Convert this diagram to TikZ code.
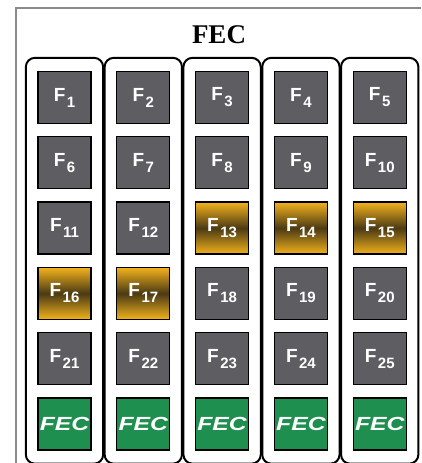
\documentclass[tikz,border=0pt]{standalone}
\usepackage{fontspec}
\setmainfont{Liberation Serif}
\setsansfont{Liberation Sans}
\usepackage{graphicx}
\usepackage{xcolor}
\usetikzlibrary{positioning, fit, backgrounds}

\definecolor{fgray}{HTML}{5E5E62}
\definecolor{fgold}{HTML}{F2B21C}
\definecolor{fdark}{HTML}{4B3A14}
\definecolor{fgreen}{HTML}{1F8F50}
\definecolor{frame}{HTML}{8A8A8A}

\newcommand{\fl}[1]{F\kern1.5pt\raisebox{-6pt}{\fontsize{15}{15}\selectfont #1}}
\newcommand{\fectxt}{\scalebox{1.3}[1]{\itshape FEC}}

\begin{document}
\begin{tikzpicture}[
    x=1pt, y=-1pt,
    node distance=12pt and 24.5pt,
    cell/.style={rectangle, draw=black, line width=1.3pt, minimum width=53pt,
                 minimum height=52pt, inner sep=0pt, text=white,
                 font=\sffamily\bfseries\fontsize{19}{19}\selectfont},
    gcell/.style={cell, fill=fgray},
    ycell/.style={cell, top color=fgold, bottom color=fgold, middle color=fdark},
    ecell/.style={cell, fill=fgreen},
    column/.style={draw, line width=2pt, rounded corners=9pt,
                   inner xsep=11.5pt, inner ysep=13pt}
]
\useasboundingbox (0,0) rectangle (421,463);
\draw[frame, line width=1.5pt] (16,463) |- (421,8);
\node[anchor=base, font=\bfseries\fontsize{27}{27}\selectfont] (title) at (219,43) {FEC};

\node[gcell] (f1) at (64.5,97.5) {\fl{1}};
\node[gcell, right=of f1] (f2)  {\fl{2}};
\node[gcell, right=of f2] (f3)  {\fl{3}};
\node[gcell, right=of f3] (f4)  {\fl{4}};
\node[gcell, right=of f4] (f5)  {\fl{5}};
\node[gcell, below=of f1] (f6)  {\fl{6}};
\node[gcell, below=of f2] (f7)  {\fl{7}};
\node[gcell, below=of f3] (f8)  {\fl{8}};
\node[gcell, below=of f4] (f9)  {\fl{9}};
\node[gcell, below=of f5] (f10) {\fl{10}};
\node[gcell, below=of f6] (f11) {\fl{11}};
\node[gcell, below=of f7] (f12) {\fl{12}};
\node[ycell, below=of f8] (f13) {\fl{13}};
\node[ycell, below=of f9] (f14) {\fl{14}};
\node[ycell, below=of f10] (f15) {\fl{15}};
\node[ycell, below=of f11] (f16) {\fl{16}};
\node[ycell, below=of f12] (f17) {\fl{17}};
\node[gcell, below=of f13] (f18) {\fl{18}};
\node[gcell, below=of f14] (f19) {\fl{19}};
\node[gcell, below=of f15] (f20) {\fl{20}};
\node[gcell, below=of f16] (f21) {\fl{21}};
\node[gcell, below=of f17] (f22) {\fl{22}};
\node[gcell, below=of f18] (f23) {\fl{23}};
\node[gcell, below=of f19] (f24) {\fl{24}};
\node[gcell, below=of f20] (f25) {\fl{25}};
\node[ecell, below=of f21] (fec1) {\fectxt};
\node[ecell, below=of f22] (fec2) {\fectxt};
\node[ecell, below=of f23] (fec3) {\fectxt};
\node[ecell, below=of f24] (fec4) {\fectxt};
\node[ecell, below=of f25] (fec5) {\fectxt};

% column frames
\begin{scope}[on background layer]
\node[column, fit=(f1)(fec1)] (col1) {};
\node[column, fit=(f2)(fec2)] (col2) {};
\node[column, fit=(f3)(fec3)] (col3) {};
\node[column, fit=(f4)(fec4)] (col4) {};
\node[column, fit=(f5)(fec5)] (col5) {};
\end{scope}
\end{tikzpicture}
\end{document}
